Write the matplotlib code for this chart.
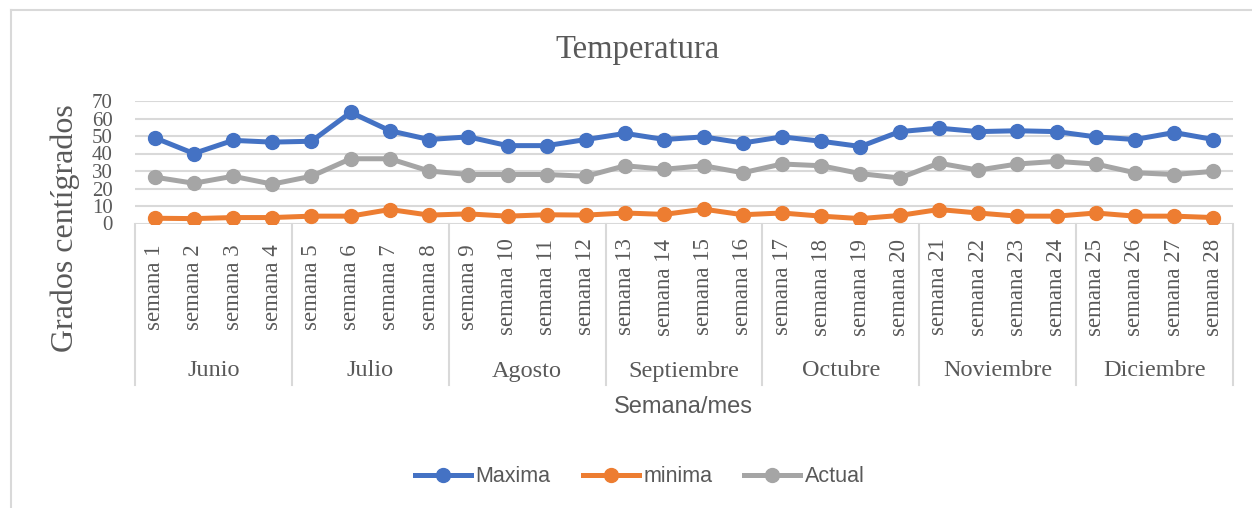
import matplotlib
matplotlib.use("Agg")
import matplotlib.pyplot as plt
from matplotlib.lines import Line2D
from matplotlib.transforms import blended_transform_factory

# weekly temperatures, June to December
weeks = [f"semana {i}" for i in range(1, 29)]
months = ["Junio", "Julio", "Agosto", "Septiembre", "Octubre", "Noviembre", "Diciembre"]
maxima = [49, 40, 47.5, 46.5, 47, 63.5, 53, 48,
          49.5, 44.5, 44.5, 48, 51.5, 48, 49.5, 46,
          49.5, 47, 44, 52.5, 54.5, 52.5, 53, 52.5,
          49.5, 48, 52, 48]
minima = [3, 2.8, 3.4, 3.4, 4.2, 4.2, 8, 4.8,
          5.5, 4.2, 5, 4.8, 6, 5.2, 8.2, 5,
          6, 4.2, 2.8, 4.6, 8, 6, 4.2, 4.2,
          6, 4.2, 4.2, 3.4]
actual = [26.5, 23, 27, 22.5, 27, 37, 37, 30,
          28, 28, 28, 27, 33, 31, 33, 29,
          34, 33, 28.5, 26, 34.5, 30.5, 34, 35.5,
          34, 29, 28, 29.8]

W, H = 1252, 508
BLUE, ORANGE, GRAY = "#4472C4", "#ED7D31", "#A5A5A5"
GRID = "#D9D9D9"
TXT = "#595959"
SERIF = "Liberation Serif"
SANS = "Liberation Sans"


def fy(py):
    return 1 - py / H


def fx(px):
    return px / W


fig = plt.figure(figsize=(W / 100, H / 100), dpi=100)
fig.patch.set_facecolor("white")
ax = fig.add_axes([fx(135), fy(223.5), fx(1233) - fx(135), fy(101) - fy(223.5)])

x = list(range(len(weeks)))
ax.plot(x, maxima, color=BLUE, lw=3.6, marker="o", ms=10, label="Maxima", zorder=3)
ax.plot(x, minima, color=ORANGE, lw=3.6, marker="o", ms=10, label="minima", zorder=3)
ax.plot(x, actual, color=GRAY, lw=3.6, marker="o", ms=10, label="Actual", zorder=3)

ax.set_xlim(-0.5, len(weeks) - 0.5)
ax.set_ylim(0, 70)
ax.set_yticks(range(0, 71, 10))
ax.yaxis.grid(True, color=GRID, lw=1.5)
ax.set_axisbelow(True)
for s in ax.spines.values():
    s.set_visible(False)
ax.set_xticks([])
ax.tick_params(axis="y", length=0, pad=16, labelcolor=TXT)
for lab in ax.get_yticklabels():
    lab.set_fontfamily(SERIF)
    lab.set_fontsize(15)

# two-level category axis: weeks rotated, months below
tr = blended_transform_factory(ax.transData, fig.transFigure)
for i, w in enumerate(weeks):
    ax.text(i, fy(287), w, transform=tr, rotation=90, ha="center", va="center",
            fontsize=16.5, family=SERIF, color=TXT)
per = len(weeks) // len(months)
for j, m in enumerate(months):
    ax.text(j * per + (per - 1) / 2, fy(371), m, transform=tr, ha="center", va="center",
            fontsize=17.5, family=SERIF, color=TXT)
for j in range(len(months) + 1):
    xb = j * per - 0.5
    ax.add_line(Line2D([xb, xb], [fy(223.5), fy(385)], transform=tr, color=GRID,
                       lw=1.5, clip_on=False))

fig.text(fx(637), fy(50), "Temperatura", ha="center", va="center",
         fontsize=23.5, family=SERIF, color=TXT)
fig.text(fx(65), fy(228), "Grados centígrados", ha="center", va="center", rotation=90,
         fontsize=23, family=SERIF, color=TXT)
fig.text(fx(683), fy(407), "Semana/mes", ha="center", va="center",
         fontsize=17, family=SANS, color=TXT)

fig.legend(loc="center", bbox_to_anchor=(fx(640), fy(477)), ncol=3, frameon=False,
           prop={"family": SANS, "size": 15.5}, labelcolor=TXT,
           handlelength=2.6, handletextpad=0.2, columnspacing=1.5)

# chart frame
fig.add_artist(Line2D([fx(11), 1], [fy(10), fy(10)], color=GRID, lw=1.5))
fig.add_artist(Line2D([fx(11), fx(11)], [fy(10), 0], color=GRID, lw=1.5))

fig.savefig("out.png", dpi=100)
